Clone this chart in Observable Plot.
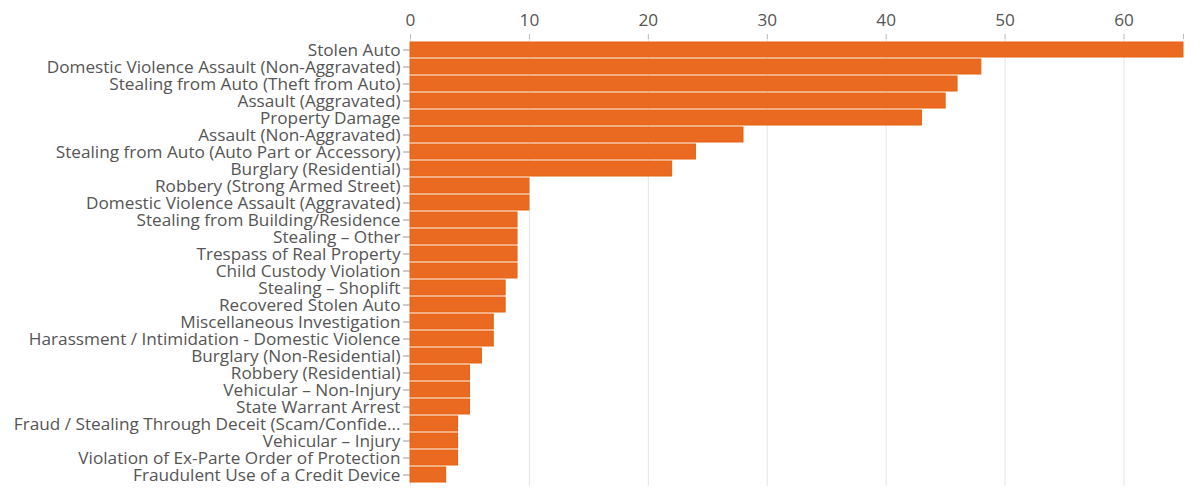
<!DOCTYPE html>
<html>
<head>
<meta charset="utf-8">
<script src="https://cdn.jsdelivr.net/npm/d3@7"></script>
<script src="https://cdn.jsdelivr.net/npm/@observablehq/plot@0.6"></script>
<style>
  html, body { margin: 0; padding: 0; background: #fff; }
  #chart svg { display: block; }
</style>
</head>
<body>
<div id="chart"></div>
<script>
const categories = [
  "Stolen Auto",
  "Domestic Violence Assault (Non-Aggravated)",
  "Stealing from Auto (Theft from Auto)",
  "Assault (Aggravated)",
  "Property Damage",
  "Assault (Non-Aggravated)",
  "Stealing from Auto (Auto Part or Accessory)",
  "Burglary (Residential)",
  "Robbery (Strong Armed Street)",
  "Domestic Violence Assault (Aggravated)",
  "Stealing from Building/Residence",
  "Stealing – Other",
  "Trespass of Real Property",
  "Child Custody Violation",
  "Stealing – Shoplift",
  "Recovered Stolen Auto",
  "Miscellaneous Investigation",
  "Harassment / Intimidation - Domestic Violence",
  "Burglary (Non-Residential)",
  "Robbery (Residential)",
  "Vehicular – Non-Injury",
  "State Warrant Arrest",
  "Fraud / Stealing Through Deceit (Scam/Confide...",
  "Vehicular – Injury",
  "Violation of Ex-Parte Order of Protection",
  "Fraudulent Use of a Credit Device"
];
const counts = [65, 48, 46, 45, 43, 28, 24, 22, 10, 10, 9, 9, 9, 9, 8, 8, 7, 7, 6, 5, 5, 5, 4, 4, 4, 3];
const xTicks = [0, 10, 20, 30, 40, 50, 60];
const xDomain = [0, 65];

const data = categories.map((c, i) => ({category: c, count: counts[i]}));

const chart = Plot.plot({
  width: 1200,
  height: 491,
  marginLeft: 410,
  marginRight: 17,
  marginTop: 38,
  marginBottom: 5,
  style: {fontFamily: "'Open Sans', sans-serif", fontSize: "17.2px", color: "#555", background: "#fff"},
  x: {domain: xDomain, range: [410, 1183]},
  y: {domain: categories, padding: 0.1},
  marks: [
    Plot.gridX(xTicks, {stroke: "#e6e6e6", strokeOpacity: 1, strokeWidth: 1}),
    Plot.barX(data, {x: "count", y: "category", fill: "#ea6a22", stroke: "#e8600f", strokeWidth: 1}),
    Plot.ruleX([0], {stroke: "#bbb", strokeWidth: 2, y1: null}),
    Plot.axisX(xTicks, {anchor: "top", tickSize: 0, tickPadding: 13, fontSize: 17.2, fill: "#555", label: null}),
    Plot.axisX(xTicks.concat([65]), {anchor: "top", tickSize: 5, tickFormat: () => "", stroke: "#bbb", label: null}),
    Plot.ruleY([0], {frameAnchor: "top", x1: 0, x2: 65, dy: -1, stroke: "#bbb", strokeWidth: 2}),
    Plot.axisY({anchor: "left", tickSize: 7, tickPadding: 3, stroke: "#999", fill: "#555", fontSize: 17.2, label: null, textOverflow: null, lineWidth: Infinity})
  ]
});
document.getElementById("chart").appendChild(chart);
</script>
</body>
</html>
